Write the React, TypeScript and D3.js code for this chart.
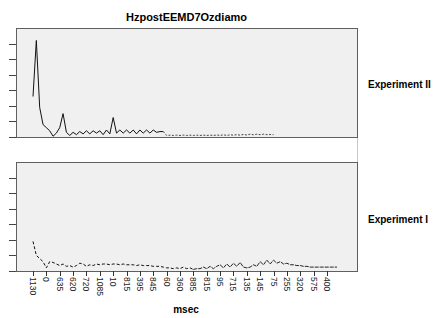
import { useRef, useEffect } from 'react';
import * as d3 from 'd3';

// category labels shown on the msec axis (every 4th category)
const tickLabels = ["1130", "0", "635", "620", "720", "1085", "10", "815", "395", "845", "60",
  "360", "885", "815", "95", "715", "135", "145", "75", "255", "320", "575", "400"];
const perLabel = 4;
const nCats = 92;

// Experiment II (top panel), solid until dottedFrom, dotted after
const expII = [2.6, 6.2, 1.9, 0.8, 0.6, 0.4, 0.05, 0.25, 0.6, 1.5,
  0.3, 0.1, 0.3, 0.15, 0.35, 0.2, 0.4, 0.2, 0.4, 0.25,
  0.4, 0.15, 0.45, 0.2, 1.25, 0.25, 0.45, 0.25, 0.45, 0.25,
  0.45, 0.2, 0.45, 0.25, 0.45, 0.25, 0.45, 0.3, 0.35, 0.35,
  0.1, 0.12, 0.1, 0.12, 0.1, 0.12, 0.1, 0.12, 0.1, 0.12,
  0.1, 0.12, 0.1, 0.12, 0.1, 0.13, 0.1, 0.14, 0.1, 0.14,
  0.12, 0.15, 0.12, 0.16, 0.13, 0.18, 0.14, 0.18, 0.15, 0.18,
  0.15, 0.16, 0.15];
const dottedFrom = 39;

// Experiment I (bottom panel), dashed until solidFrom
const expI = [1.9, 1.0, 0.8, 0.6, 0.2, 0.6, 0.55, 0.45, 0.35, 0.45,
  0.3, 0.35, 0.25, 0.35, 0.5, 0.45, 0.3, 0.4, 0.35, 0.45,
  0.4, 0.45, 0.45, 0.4, 0.45, 0.45, 0.4, 0.45, 0.4, 0.4,
  0.4, 0.35, 0.4, 0.35, 0.35, 0.35, 0.3, 0.3, 0.3, 0.25,
  0.2, 0.2, 0.15, 0.2, 0.15, 0.25, 0.15, 0.2, 0.1, 0.15,
  0.15, 0.25, 0.15, 0.3, 0.15, 0.3, 0.4, 0.2, 0.45, 0.25,
  0.5, 0.3, 0.55, 0.25, 0.2, 0.25, 0.4, 0.3, 0.6, 0.4,
  0.7, 0.45, 0.7, 0.5, 0.6, 0.45, 0.5, 0.4, 0.4, 0.35,
  0.35, 0.3, 0.3, 0.25, 0.25, 0.25, 0.25, 0.25, 0.25, 0.25,
  0.25, 0.25];
const solidFrom = 48;

const yTicks = [0, 1, 2, 3, 4, 5, 6];

export default function App() {
  const svgRef = useRef(null);
  const width = 441, height = 318;
  const left = 16, right = 357;
  const panels = [
    { top: 28, bottom: 137, name: "Experiment II", labelY: 88 },
    { top: 162, bottom: 271, name: "Experiment I", labelY: 223 },
  ];
  const font = "Arial, 'Liberation Sans', sans-serif";

  useEffect(() => {
    const svg = d3.select(svgRef.current);
    svg.selectAll("*").remove();

    const x = d3.scaleLinear().domain([0, nCats - 1]).range([33, 337]);

    svg.append("text")
      .attr("x", (left + right) / 2).attr("y", 21)
      .attr("text-anchor", "middle")
      .attr("font-family", font).attr("font-size", 11).attr("font-weight", "bold")
      .text("HzpostEEMD7Ozdiamo");

    // faint connector between panels
    svg.append("line")
      .attr("x1", right + 0.5).attr("x2", right + 0.5)
      .attr("y1", panels[0].bottom).attr("y2", panels[1].top)
      .attr("stroke", "#c8c8c8");

    panels.forEach((p, pi) => {
      const y = d3.scaleLinear().domain([0, 7]).range([p.bottom, p.top]);
      const g = svg.append("g");
      g.append("rect")
        .attr("x", left + 0.5).attr("y", p.top + 0.5)
        .attr("width", right - left).attr("height", p.bottom - p.top)
        .attr("fill", "#f0f0f0").attr("stroke", "#5f5f5f");

      g.selectAll("line.yt").data(yTicks).join("line")
        .attr("class", "yt")
        .attr("x1", 9).attr("x2", left)
        .attr("y1", d => Math.round(y(d)) + 0.5).attr("y2", d => Math.round(y(d)) + 0.5)
        .attr("stroke", "#444");

      const line = d3.line<number>()
        .x((d, i) => x(i))
        .y(d => y(d));

      if (pi === 0) {
        const a = expII.slice(0, dottedFrom + 1);
        const b = expII.slice(dottedFrom);
        g.append("path").attr("d", line(a)).attr("fill", "none")
          .attr("stroke", "#111").attr("stroke-width", 1);
        g.append("path").attr("d", d3.line<number>().x((d, i) => x(i + dottedFrom)).y(d => y(d))(b))
          .attr("fill", "none").attr("stroke", "#444").attr("stroke-width", 1)
          .attr("stroke-dasharray", "2,1.5");
      } else {
        const a = expI.slice(0, solidFrom + 1);
        const b = expI.slice(solidFrom);
        g.append("path").attr("d", line(a)).attr("fill", "none")
          .attr("stroke", "#111").attr("stroke-width", 1)
          .attr("stroke-dasharray", "3,2");
        g.append("path").attr("d", d3.line<number>().x((d, i) => x(i + solidFrom)).y(d => y(d))(b))
          .attr("fill", "none").attr("stroke", "#222").attr("stroke-width", 1)
          .attr("stroke-dasharray", "4,1");
      }

      g.append("text")
        .attr("x", 368).attr("y", p.labelY)
        .attr("font-family", font).attr("font-size", 10).attr("font-weight", "bold")
        .text(p.name);
    });

    // category axis under the bottom panel
    const ax = svg.append("g");
    ax.selectAll("line.xt").data(tickLabels).join("line")
      .attr("class", "xt")
      .attr("x1", (d, i) => Math.round(x(i * perLabel)) + 0.5)
      .attr("x2", (d, i) => Math.round(x(i * perLabel)) + 0.5)
      .attr("y1", panels[1].bottom).attr("y2", panels[1].bottom + 5)
      .attr("stroke", "#333");
    ax.selectAll("text").data(tickLabels).join("text")
      .attr("transform", (d, i) => `translate(${x(i * perLabel)},${panels[1].bottom + 6}) rotate(90)`)
      .attr("dy", "0.35em")
      .attr("font-family", font).attr("font-size", 8.5)
      .attr("fill", "#222")
      .text(d => d);

    svg.append("text")
      .attr("x", 186).attr("y", 313)
      .attr("text-anchor", "middle")
      .attr("font-family", font).attr("font-size", 10).attr("font-weight", "bold")
      .text("msec");
  }, []);

  return (
    <div style={{ position: "absolute", left: 0, top: 0 }}>
      <svg ref={svgRef} width={width} height={height} style={{ display: "block", background: "#fff" }} />
    </div>
  );
}
